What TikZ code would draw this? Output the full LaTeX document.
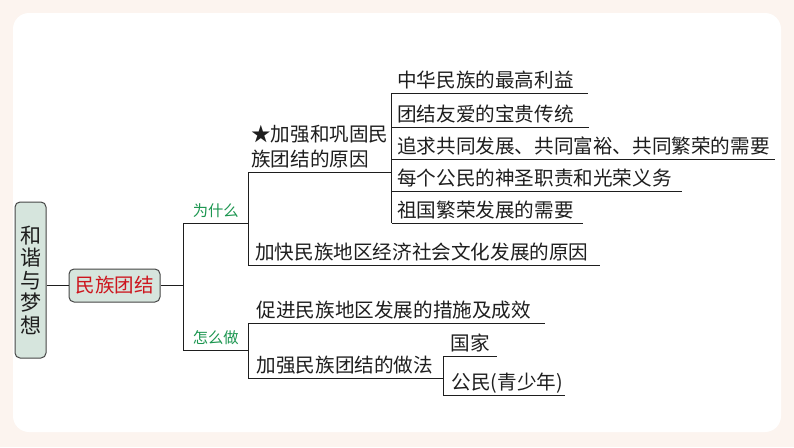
\documentclass[tikz,border=0pt]{standalone}
\usepackage{fontspec}
\setmainfont{Noto Sans CJK SC}
\newcommand\mmLeafBox[2]{\makebox[#1][l]{#2}}
\definecolor{bgouter}{RGB}{252,244,239}
\definecolor{boxfill}{RGB}{214,229,221}
\definecolor{boxline}{RGB}{70,70,70}
\definecolor{redtxt}{RGB}{205,22,30}
\definecolor{greentxt}{RGB}{28,150,80}
\definecolor{ink}{RGB}{30,30,30}
\begin{document}
\begin{tikzpicture}[x=1pt,y=-1pt,
  conn/.style={draw=ink,line width=1pt},
  leaf/.style={anchor=south west,inner xsep=5.5pt,inner ysep=5pt,text depth=0pt,
    font=\fontsize{19.6}{25}\selectfont,text=ink},
  mid/.style={leaf,inner xsep=7pt},
  star/.style={leaf,inner xsep=3pt},
  low/.style={leaf,inner xsep=8.5pt},
  tiny/.style={leaf,inner xsep=7.4pt},
  qlabel/.style={anchor=south west,inner xsep=0pt,inner ysep=6pt,text depth=0pt,
    minimum width=65pt,font=\fontsize{15.3}{18}\selectfont,text=greentxt},
  rootbox/.style={draw=boxline,fill=boxfill,line width=1pt,rounded corners=5pt,
    inner sep=0pt},
]
\useasboundingbox (0,0) rectangle (794,447);
\fill[bgouter] (0,0) rectangle (794,447);
\fill[white,rounded corners=16pt] (13,13) rectangle (781,432);

% root and main topic
\node[rootbox,minimum width=31pt,minimum height=156pt,align=center,
  font=\fontsize{21}{22.5}\selectfont,text=ink] (root) at (30.5,280)
  {和\\谐\\与\\梦\\想};
\node[rootbox,minimum width=91pt,minimum height=33pt,
  font=\fontsize{19.5}{22}\selectfont,text=redtxt] (mz) at (114.5,285.5) {民族团结};

% question labels
\node[qlabel] (why) at (183,223) {为什么};
\node[qlabel] (how) at (183,350) {怎么做};

% why branch
\node[star] (st) at (248,172)
  {\parbox[b]{137.5pt}{★加强和巩固民\\族团结的原因}};
\node[mid] (md) at (248,265) {\mmLeafBox{338pt}{加快民族地区经济社会文化发展的原因}};

\node[leaf] (l1) at (391.5,93)  {\mmLeafBox{185.5pt}{中华民族的最高利益}};
\node[leaf] (l2) at (391.5,127) {\mmLeafBox{186.5pt}{团结友爱的宝贵传统}};
\node[leaf] (l3) at (391.5,159) {\mmLeafBox{372.5pt}{追求共同发展、共同富裕、共同繁荣的需要}};
\node[leaf] (l4) at (391.5,191) {\mmLeafBox{279.5pt}{每个公民的神圣职责和光荣义务}};
\node[leaf] (l5) at (391.5,223) {\mmLeafBox{180.5pt}{祖国繁荣发展的需要}};

% how branch
\node[low] (p1) at (248,323) {\mmLeafBox{280pt}{促进民族地区发展的措施及成效}};
\node[low] (p2) at (248,378) {\mmLeafBox{178pt}{加强民族团结的做法}};
\node[tiny] (g1) at (443,356) {\mmLeafBox{39.2pt}{国家}};
\node[low] (g2) at (443,395) {\mmLeafBox{105pt}{公民(青少年)}};

% connectors
\draw[conn] (root.east |- mz.west) -- (mz.west);
\draw[conn] (mz.east) -- (mz.east -| why.south west);
\draw[conn] (why.south west) -- (how.south west);
\foreach \n in {why,how,st,md,l1,l2,l3,l4,l5,p1,p2,g1,g2}
  \draw[conn] (\n.south west) -- (\n.south east);
\draw[conn] (st.south west) -- (md.south west);
\draw[conn] (l1.south west) -- (l5.south west);
\draw[conn] (p1.south west) -- (p2.south west);
\draw[conn] (g1.south west) -- (g2.south west);
\end{tikzpicture}
\end{document}
